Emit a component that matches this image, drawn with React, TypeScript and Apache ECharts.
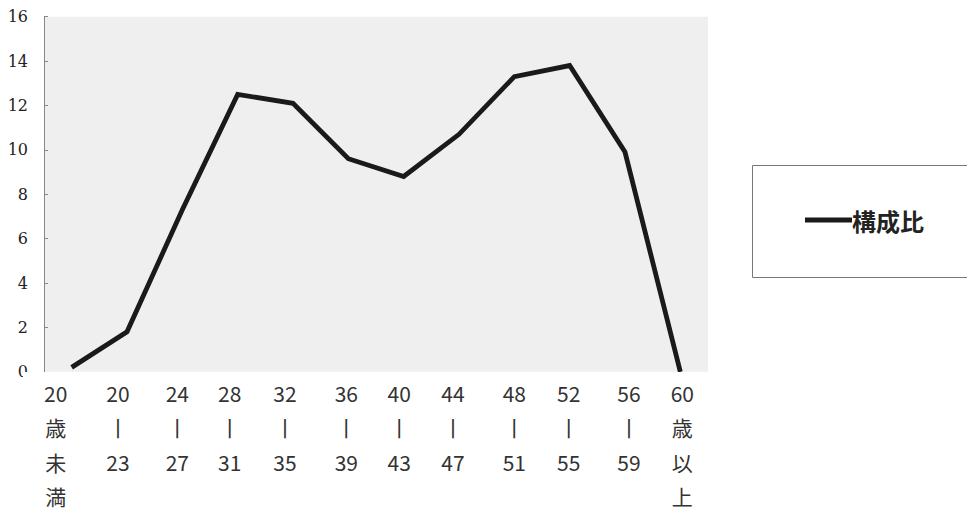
import React, { useEffect, useRef } from "react";
import * as echarts from "echarts";

const categories = [
  "20\n歳\n未\n満",
  "20\n丨\n23",
  "24\n丨\n27",
  "28\n丨\n31",
  "32\n丨\n35",
  "36\n丨\n39",
  "40\n丨\n43",
  "44\n丨\n47",
  "48\n丨\n51",
  "52\n丨\n55",
  "56\n丨\n59",
  "60\n歳\n以\n上",
];
const seriesName = "構成比";
const values = [0.2, 1.8, 7.3, 12.5, 12.1, 9.6, 8.8, 10.7, 13.3, 13.8, 9.9, 0];
const yTicks = { min: 0, max: 16, interval: 2 };

// horizontal nudge of each category label (styling only, px)
const labelShift = [-16, -9, -5, -8, -8, -2, -4.5, -6, 0, -1, 4, 2];

export default function App() {
  const ref = useRef<HTMLDivElement>(null);
  useEffect(() => {
    if (!ref.current) return;
    const chart = echarts.init(ref.current, undefined, { renderer: "svg" });
    const labelFont = {
      fontSize: 21,
      lineHeight: 34.3,
      color: "#333",
      fontFamily: "Noto Sans CJK JP",
    };
    const rich: Record<string, any> = {};
    labelShift.forEach((s, i) => {
      const padding = s < 0 ? [0, -2 * s, 0, 0] : [0, 0, 0, 2 * s];
      rich["s" + i] = { ...labelFont, padding };
    });
    chart.setOption({
      animation: false,
      backgroundColor: "#ffffff",
      grid: {
        left: 44,
        top: 16.7,
        right: 259,
        bottom: 134.5,
        show: true,
        backgroundColor: "#efefef",
        borderWidth: 0,
      },
      legend: {
        data: [seriesName],
        left: 805,
        top: 208,
        padding: 0,
        icon: "rect",
        itemWidth: 47,
        itemHeight: 5,
        itemGap: 0,
        textStyle: {
          fontSize: 24,
          fontWeight: "bold",
          color: "#222",
          fontFamily: "Noto Sans CJK JP",
          padding: [0, 0, 0, -5],
        },
      },
      graphic: [
        {
          type: "rect",
          z: 50,
          shape: { x: 23, y: 372, width: 944, height: 141 },
          style: { fill: "#ffffff" },
        },
        {
          type: "rect",
          z: 50,
          shape: { x: 752.5, y: 165.5, width: 240, height: 112 },
          style: { fill: "none", stroke: "#777", lineWidth: 1 },
        },
      ],
      xAxis: {
        type: "category",
        data: categories,
        boundaryGap: true,
        z: 100,
        axisLine: { show: false },
        axisTick: { show: false },
        axisLabel: {
          interval: 0,
          margin: 4,
          ...labelFont,
          formatter: (value: string, index: number) =>
            value
              .split("\n")
              .map((l) => `{s${index}|${l}}`)
              .join("\n"),
          rich,
        },
      },
      yAxis: {
        type: "value",
        min: yTicks.min,
        max: yTicks.max,
        interval: yTicks.interval,
        splitLine: { show: false },
        axisLine: { show: true, lineStyle: { color: "#888", width: 1 } },
        axisTick: { show: true, inside: true, length: 4, lineStyle: { color: "#888" } },
        axisLabel: {
          margin: 16,
          fontSize: 16,
          color: "#222",
          fontFamily: "DejaVu Serif",
        },
      },
      series: [
        {
          name: seriesName,
          type: "line",
          data: values,
          symbol: "none",
          z: 2,
          lineStyle: { color: "#1a1a1a", width: 4.8, join: "miter" },
          itemStyle: { color: "#1a1a1a" },
        },
      ],
    });
    return () => chart.dispose();
  }, []);
  return (
    <div
      ref={ref}
      style={{ position: "fixed", left: 0, top: 0, width: 967, height: 513 }}
    />
  );
}
